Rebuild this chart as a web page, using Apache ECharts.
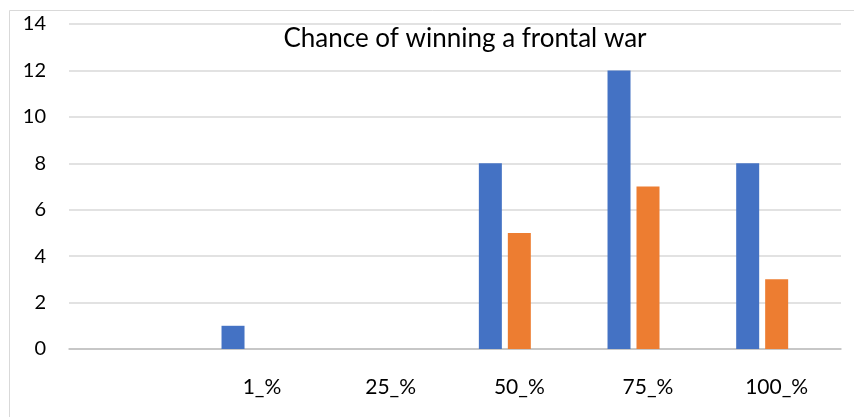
<!DOCTYPE html>
<html>
<head>
<meta charset="utf-8">
<script src="https://cdn.jsdelivr.net/npm/echarts@6/dist/echarts.min.js"></script>
<style>
    html, body { margin: 0; padding: 0; background: #fff; }
    #chart { width: 854px; height: 417px; }
</style>
</head>
<body>
<div id="chart"></div>
<script>
// values
const categories = ['', '1_%', '25_%', '50_%', '75_%', '100_%']
const seriesBlue = [0, 1, 0, 8, 12, 8]
const seriesOrange = [0, 0, 0, 5, 7, 3]
// third series is present in the source but holds no visible bars
const seriesEmpty = [0, 0, 0, 0, 0, 0]
const yTicks = [0, 2, 4, 6, 8, 10, 12, 14]

const FONT = 'Lato'

const chart = echarts.init(document.getElementById('chart'))

const barBase = {
    type: 'bar',
    barWidth: 23,
    barGap: '26%',
    silent: true,
}

chart.setOption({
    animation: false,
    textStyle: { fontFamily: FONT },
    title: {
        text: 'Chance of winning a frontal war',
        left: 460,
        top: 21,
        textAlign: 'center',
        textStyle: {
            fontFamily: FONT,
            fontSize: 26,
            fontWeight: 'normal',
            color: '#000',
        },
    },
    grid: {
        left: 69,
        right: 13,
        top: 24,
        bottom: 68,
    },
    graphic: [
        {
            type: 'rect',
            shape: { x: 9.5, y: 10.5, width: 860, height: 430 },
            style: { fill: 'none', stroke: '#d9d9d9', lineWidth: 1 },
            silent: true,
            z: -1,
        },
    ],
    xAxis: {
        type: 'category',
        data: categories,
        axisTick: { show: false },
        axisLine: { lineStyle: { color: '#bfbfbf', width: 1.5 } },
        axisLabel: {
            margin: 28,
            fontFamily: FONT,
            fontSize: 21,
            color: '#000',
        },
    },
    yAxis: {
        type: 'value',
        min: yTicks[0],
        max: yTicks[yTicks.length - 1],
        interval: 2,
        axisLine: { show: false },
        axisTick: { show: false },
        axisLabel: {
            margin: 23,
            fontFamily: FONT,
            fontSize: 20,
            color: '#000',
        },
        splitLine: { lineStyle: { color: '#d9d9d9', width: 1.5 } },
    },
    series: [
        { ...barBase, name: 'A', data: seriesBlue, itemStyle: { color: '#4472C4' } },
        { ...barBase, name: 'B', data: seriesOrange, itemStyle: { color: '#ED7D31' } },
        { ...barBase, name: 'C', data: seriesEmpty, itemStyle: { color: '#A5A5A5' } },
    ],
})
</script>
</body>
</html>
